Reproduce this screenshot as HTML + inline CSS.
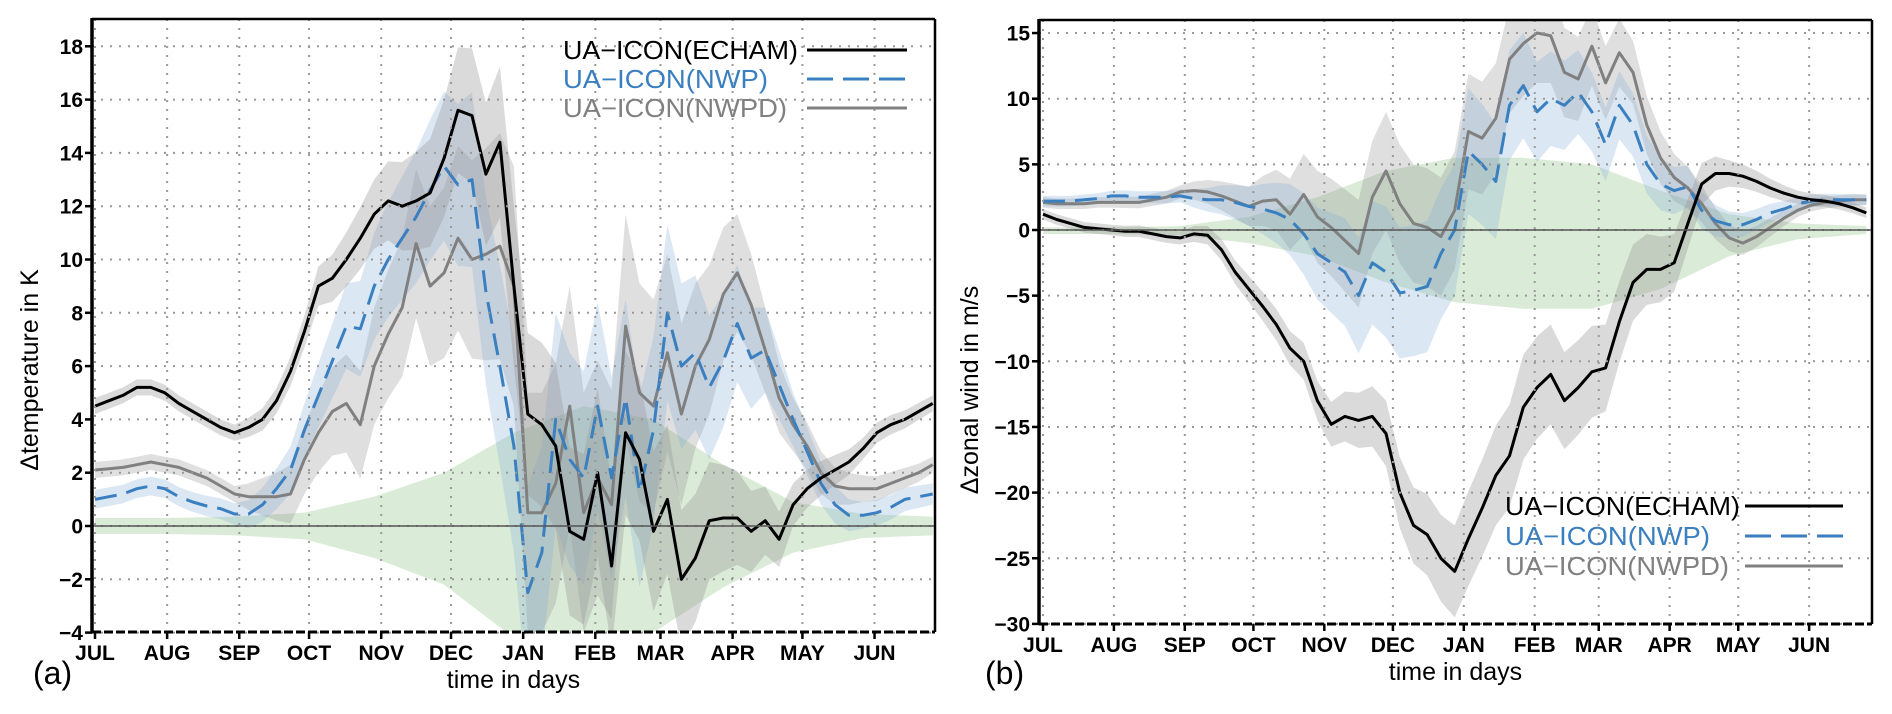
<!DOCTYPE html>
<html><head><meta charset="utf-8">
<style>
html,body{margin:0;padding:0;background:#fff;}
svg{display:block;}
text{font-family:"Liberation Sans",Arial,sans-serif;}
</style></head>
<body>
<svg id="fig" width="1892" height="714" viewBox="0 0 1892 714" xmlns="http://www.w3.org/2000/svg">
<defs>
<clipPath id="clipA"><rect x="92" y="19" width="843" height="613"/></clipPath>
<clipPath id="clipB"><rect x="1039" y="20" width="833" height="604"/></clipPath>
</defs>
<g id="panelA"></g>
<g id="panelB"></g>
</svg>
<script>
// ---- shared categories ----
const months = ["JUL","AUG","SEP","OCT","NOV","DEC","JAN","FEB","MAR","APR","MAY","JUN"];
const monthStartDays = [0,31,62,92,123,153,184,215,243,274,304,335];
const days = [0,6,12,18,24,30,36,42,48,54,60,66,72,78,84,90,96,102,108,114,120,126,132,138,144,150,156,162,168,174,180,186,192,198,204,210,216,222,228,234,240,246,252,258,264,270,276,282,288,294,300,306,312,318,324,330,336,342,348,354,360];
const spreadDays = [0,30,60,90,120,150,180,210,240,270,300,330,360];
const seriesNames = ["UA\u2212ICON(ECHAM)","UA\u2212ICON(NWP)","UA\u2212ICON(NWPD)"];

// ---- panel (a) temperature ----
const tempTicks = [-4,-2,0,2,4,6,8,10,12,14,16,18];
const echamTemp = [4.5,4.7,4.9,5.2,5.2,5.0,4.6,4.3,4.0,3.7,3.5,3.7,4.0,4.7,5.8,7.3,9.0,9.3,10.0,10.8,11.7,12.2,12.0,12.2,12.5,13.8,15.6,15.4,13.2,14.4,9.0,4.2,3.8,3.0,-0.2,-0.5,2.0,-1.5,3.5,2.5,-0.2,1.0,-2.0,-1.2,0.2,0.3,0.3,-0.2,0.2,-0.5,0.8,1.4,1.8,2.1,2.4,2.9,3.5,3.8,4.0,4.3,4.6];
const nwpTemp = [1.0,1.1,1.2,1.4,1.5,1.4,1.1,0.9,0.75,0.65,0.45,0.45,0.8,1.4,2.1,3.6,4.9,6.2,7.5,7.4,9.0,10.0,10.8,11.6,12.6,13.5,12.8,13.0,8.8,6.0,3.0,-2.5,-1.0,4.0,2.5,1.8,4.5,1.8,4.8,1.3,3.6,8.0,6.0,6.5,5.2,6.2,7.6,6.3,6.6,5.3,4.0,2.8,1.6,0.8,0.4,0.4,0.5,0.7,1.0,1.1,1.2];
const nwpdTemp = [2.1,2.15,2.2,2.3,2.4,2.3,2.2,2.0,1.8,1.5,1.2,1.1,1.1,1.1,1.2,2.5,3.5,4.3,4.6,3.8,6.0,7.2,8.2,10.6,9.0,9.5,10.8,10.0,10.2,10.5,9.0,0.5,0.5,1.6,4.5,0.5,1.8,0.8,7.5,5.0,4.5,6.5,4.2,6.0,7.0,8.7,9.5,8.3,6.6,4.8,3.8,3.0,2.0,1.5,1.4,1.4,1.4,1.6,1.8,2.0,2.3];
const echamTempSpread = [0.3,0.3,0.3,0.6,1.3,2.2,3.0,3.2,3.0,2.0,0.8,0.4,0.3];
const nwpTempSpread = [0.35,0.35,0.4,1.0,2.0,2.8,4.0,4.0,3.5,2.5,1.0,0.5,0.4];
const nwpdTempSpread = [0.3,0.3,0.3,1.3,2.2,3.2,4.5,4.5,4.0,2.5,1.0,0.5,0.3];
const ctrlTempUpper = [0.3,0.3,0.35,0.5,1.1,2.0,3.5,4.5,4.0,2.3,0.9,0.45,0.35];
const ctrlTempLower = [-0.3,-0.3,-0.35,-0.5,-1.2,-2.2,-4.2,-4.8,-4.0,-2.3,-1.0,-0.45,-0.35];

// ---- panel (b) zonal wind ----
const windTicks = [-30,-25,-20,-15,-10,-5,0,5,10,15];
const echamWind = [1.2,0.8,0.5,0.2,0.1,0,-0.1,-0.1,-0.3,-0.5,-0.6,-0.3,-0.4,-1.5,-3.2,-4.5,-5.8,-7.2,-9,-10,-13,-14.8,-14.2,-14.5,-14.2,-15.5,-20,-22.5,-23.2,-25,-26,-23.5,-21.2,-18.7,-17.2,-13.5,-12,-11,-13,-12,-10.8,-10.5,-7,-4,-3,-3,-2.5,0.5,3.5,4.3,4.3,4.1,3.7,3.2,2.8,2.5,2.3,2.2,2.0,1.7,1.3];
const nwpWind = [2.2,2.2,2.2,2.3,2.4,2.6,2.6,2.5,2.5,2.5,2.6,2.4,2.3,2.3,2.1,1.8,1.6,1.3,0.8,-0.3,-1.8,-2.5,-3.2,-5,-2.5,-3.2,-4.8,-4.6,-4.3,-1.8,0,6,5,3.7,9.5,11,9,10,9.5,10.5,9,6.5,9.5,8,5,3.5,3,3.3,1.5,0.7,0.4,0.4,0.8,1.3,1.6,2.0,2.2,2.3,2.3,2.3,2.3];
const nwpdWind = [2.1,2.0,2.0,2.0,2.1,2.1,2.1,2.1,2.3,2.5,2.9,3.0,2.9,2.6,2.2,1.8,2.2,2.3,1.2,2.7,1.0,0.2,-0.8,-1.8,2.5,4.5,2.0,0.5,0.2,-0.5,1.5,7.5,7,8.5,13,14.2,15,14.8,12,11.5,14,11.2,13.5,12,8,5.5,4,3.2,2,0.5,-0.6,-1,-0.5,0.2,0.9,1.5,1.9,2.1,2.2,2.3,2.3];
const echamWindSpread = [0.4,0.4,0.5,1.0,1.5,2.5,3.5,4.0,3.5,2.5,1.0,0.5,0.4];
const nwpWindSpread = [0.4,0.4,0.5,1.5,3.5,5.0,5.0,4.0,3.0,2.0,1.0,0.5,0.4];
const nwpdWindSpread = [0.4,0.4,0.5,1.5,3.5,4.5,4.5,4.0,3.0,2.0,1.0,0.5,0.4];
const ctrlWindUpper = [0.2,0.2,0.3,1.0,2.5,4.5,5.5,5.5,5.0,3.0,1.2,0.5,0.3];
const ctrlWindLower = [-0.3,-0.3,-0.4,-1.0,-2.0,-4.0,-5.5,-6.0,-6.0,-4.5,-2.0,-0.7,-0.3];

const NS = "http://www.w3.org/2000/svg";
function mk(tag, attrs, parent){
  const e = document.createElementNS(NS, tag);
  for (const k in attrs) e.setAttribute(k, attrs[k]);
  parent.appendChild(e);
  return e;
}
function interpSpread(arr, d){
  const i = Math.min(Math.floor(d/30), spreadDays.length-2);
  const t = (d - spreadDays[i])/30;
  return arr[i]*(1-t) + arr[i+1]*t;
}

function drawPanel(g, c){
  const X = d => c.x0 + d*c.pxDay;
  const Y = v => c.yZero - v*c.pxUnit;
  const clip = mk("g", {"clip-path":"url(#"+c.clip+")"}, g);

  // control (green) band
  let pts = days.map(d => X(d)+","+Y(interpSpread(c.ctrlU, d)));
  pts = pts.concat(days.slice().reverse().map(d => X(d)+","+Y(interpSpread(c.ctrlL, d))));
  const gb = mk("polygon", {points: pts.join(" "), fill:"rgba(150,200,140,0.35)"}, clip);
  
  

  // model bands
  const bands = [
    {mean:c.nwpd, sp:c.nwpdS, fill:"rgba(140,140,140,0.28)", name:"nwpd-spread-band"},
    {mean:c.nwp, sp:c.nwpS, fill:"rgba(130,170,215,0.28)", name:"nwp-spread-band"},
    {mean:c.ech, sp:c.echS, fill:"rgba(150,150,150,0.35)", name:"echam-spread-band"}
  ];
  bands.forEach(b => {
    let p = days.map((d,i) => X(d)+","+Y(b.mean[i]+interpSpread(b.sp, d)));
    p = p.concat(days.map((d,i) => X(d)+","+Y(b.mean[i]-interpSpread(b.sp, d))).reverse());
    const el = mk("polygon", {points:p.join(" "), fill:b.fill}, clip);
    
    
  });

  // grid
  c.ticks.forEach(v => {
    const l = mk("line", {x1:c.left, x2:c.right, y1:Y(v), y2:Y(v), stroke:"#999", "stroke-width":2, "stroke-dasharray":"2,7"}, g);
    
    
  });
  monthStartDays.forEach(d => {
    const l = mk("line", {x1:X(d), x2:X(d), y1:c.top, y2:c.bottom, stroke:"#999", "stroke-width":2, "stroke-dasharray":"2,7"}, g);
    
    
  });
  // zero line
  const z = mk("line", {x1:c.left, x2:c.right, y1:Y(0), y2:Y(0), stroke:"#555", "stroke-width":1.5}, g);
  
  

  // series lines
  const lines = [
    {v:c.nwpd, col:"#808080", dash:"", name:"nwpd-line"},
    {v:c.nwp, col:"#3a7fbf", dash:"22,10", name:"nwp-line"},
    {v:c.ech, col:"#000", dash:"", name:"echam-line"}
  ];
  lines.forEach(s => {
    const d = "M" + days.map((dd,i) => X(dd).toFixed(1)+","+Y(s.v[i]).toFixed(1)).join(" L");
    const a = {d:d, fill:"none", stroke:s.col, "stroke-width":3, "stroke-linejoin":"round"};
    if (s.dash) a["stroke-dasharray"] = s.dash;
    const el = mk("path", a, clip);
    
    
  });

  // frame
  const fr = mk("g", {}, g);
  
  
  mk("line", {x1:c.left, x2:c.right, y1:c.top, y2:c.top, stroke:"#000", "stroke-width":2.5}, fr);
  mk("line", {x1:c.right, x2:c.right, y1:c.top, y2:c.bottom, stroke:"#000", "stroke-width":2.5}, fr);
  mk("line", {x1:c.left, x2:c.right, y1:c.bottom, y2:c.bottom, stroke:"#000", "stroke-width":3, "stroke-dasharray":"9,3"}, fr);
  mk("line", {x1:c.left, x2:c.left, y1:c.top-1, y2:c.bottom+1, stroke:"#000", "stroke-width":3.5}, fr);

  // y ticks
  c.ticks.forEach(v => {
    mk("line", {x1:c.left-7, x2:c.left, y1:Y(v), y2:Y(v), stroke:"#000", "stroke-width":2.5}, g);
    const t = mk("text", {x:c.left-9, y:Y(v)+7.5, "text-anchor":"end", "font-size":21, "font-weight":"bold", fill:"#000"}, g);
    t.textContent = String(v).replace("-", "\u2212");
    
    
  });
  // x ticks
  monthStartDays.forEach((d,i) => {
    mk("line", {x1:X(d), x2:X(d), y1:c.bottom, y2:c.bottom+7, stroke:"#000", "stroke-width":2.5}, g);
    const t = mk("text", {x:X(d), y:c.bottom+28, "text-anchor":"middle", "font-size":21, "font-weight":"bold", fill:"#000"}, g);
    t.textContent = months[i];
    
    
  });

  // axis titles
  const xt = mk("text", {x:(c.left+c.right)/2, y:c.bottom+56, "text-anchor":"middle", "font-size":25, fill:"#000"}, g);
  xt.textContent = "time in days";
  
  
  const yt = mk("text", {x:0, y:0, "text-anchor":"middle", "font-size":25, fill:"#000", transform:"translate("+c.ytx+","+c.yty+") rotate(-90)"}, g);
  yt.textContent = c.ytitle;
  
  
  const pl = mk("text", {x:c.plx, y:c.ply, "font-size":32, fill:"#000"}, g);
  pl.textContent = c.plabel;
  
  

  // legend
  const lg = mk("g", {}, g);
  
  
  const cols = ["#000","#3a7fbf","#808080"];
  const widths = [235,205,224];
  seriesNames.forEach((nm,i) => {
    const y = c.legY + i*c.legDy;
    const t = mk("text", {x:c.legX, y:y+9, "font-size":26, fill:cols[i], textLength:widths[i], lengthAdjust:"spacingAndGlyphs"}, lg);
    t.textContent = nm;
    
    
    const a = {x1:c.legL1, x2:c.legL2, y1:y, y2:y, stroke:cols[i], "stroke-width":3};
    if (i === 1) a["stroke-dasharray"] = "26,10";
    const ln = mk("line", a, lg);
    
    
  });
}

drawPanel(document.getElementById("panelA"), {
  clip:"clipA", left:92, right:935, top:19, bottom:632,
  x0:95, pxDay:2.327, yZero:526, pxUnit:26.65, ticks:tempTicks,
  ech:echamTemp, nwp:nwpTemp, nwpd:nwpdTemp,
  echS:echamTempSpread, nwpS:nwpTempSpread, nwpdS:nwpdTempSpread,
  ctrlU:ctrlTempUpper, ctrlL:ctrlTempLower,
  ytitle:"\u0394temperature in K", ytx:38, yty:370,
  plabel:"(a)", plx:33, ply:684,
  legX:563, legY:50, legDy:29, legL1:807, legL2:907
});
drawPanel(document.getElementById("panelB"), {
  clip:"clipB", left:1039, right:1872, top:20, bottom:624,
  x0:1043, pxDay:2.287, yZero:230, pxUnit:13.13, ticks:windTicks,
  ech:echamWind, nwp:nwpWind, nwpd:nwpdWind,
  echS:echamWindSpread, nwpS:nwpWindSpread, nwpdS:nwpdWindSpread,
  ctrlU:ctrlWindUpper, ctrlL:ctrlWindLower,
  ytitle:"\u0394zonal wind in m/s", ytx:978, yty:390,
  plabel:"(b)", plx:985, ply:684,
  legX:1505, legY:506, legDy:30, legL1:1745, legL2:1843
});
</script>
</body></html>
